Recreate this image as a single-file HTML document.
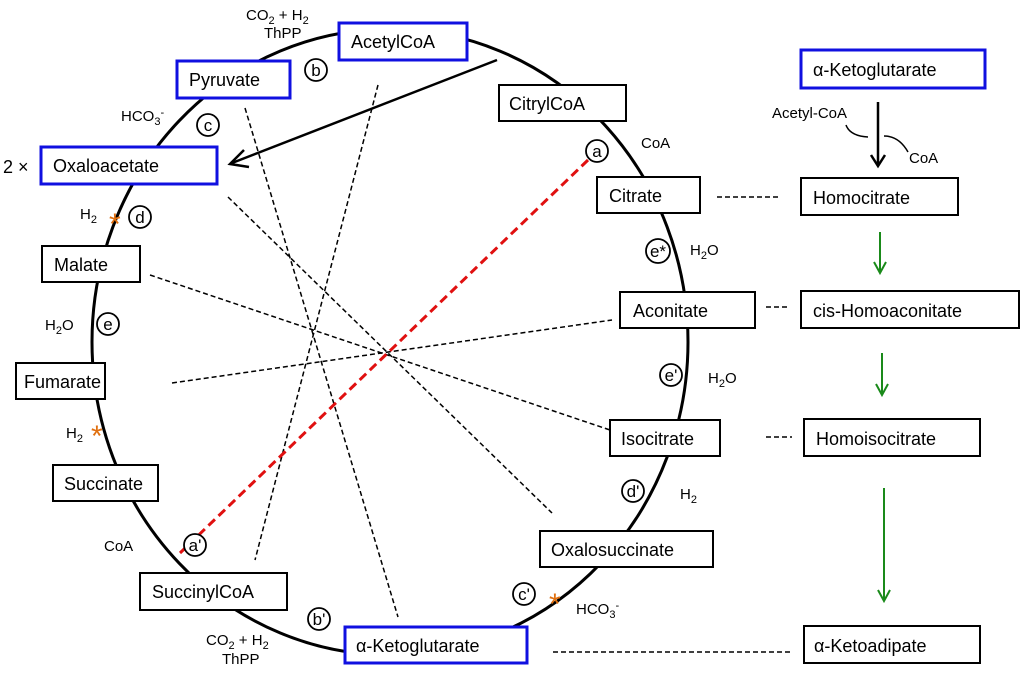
<!DOCTYPE html>
<html><head><meta charset="utf-8"><style>
html,body{margin:0;padding:0;background:#fff;}
svg{display:block;}
text{font-family:"Liberation Sans",sans-serif;fill:#000;}
.bx{fill:#fff;stroke:#000;stroke-width:2;}
.bb{fill:#fff;stroke:#1010e0;stroke-width:3;}
.lb{font-size:18px;}
.sm{font-size:15px;}
.dl{stroke:#000;stroke-width:1.5;stroke-dasharray:5,3;fill:none;}
.ci{fill:#fff;stroke:#000;stroke-width:1.8;}
.cl{font-size:17px;text-anchor:middle;}
.st{fill:#e07010;font-size:30px;}
</style></head><body>
<svg width="1024" height="677" viewBox="0 0 1024 677" xmlns="http://www.w3.org/2000/svg">
<ellipse cx="390" cy="342" rx="298" ry="313" fill="none" stroke="#000" stroke-width="3"/>

<line class="dl" x1="150" y1="275" x2="610" y2="430"/>
<line class="dl" x1="172" y1="383" x2="612" y2="320"/>
<line class="dl" x1="228" y1="197" x2="552" y2="513"/>
<line class="dl" x1="245" y1="108" x2="398" y2="617"/>
<line class="dl" x1="378" y1="85" x2="255" y2="560"/>
<line x1="588" y1="160" x2="180" y2="553" stroke="#e01010" stroke-width="3" stroke-dasharray="9,5"/>

<line x1="497" y1="60" x2="232" y2="163" stroke="#000" stroke-width="2.5"/>
<path d="M244,150 L230,164 L249,167" fill="none" stroke="#000" stroke-width="2.5"/>

<rect class="bb" x="339" y="23" width="128" height="37"/><text class="lb" x="351" y="48">AcetylCoA</text>
<rect class="bb" x="177" y="61" width="113" height="37"/><text class="lb" x="189" y="86">Pyruvate</text>
<rect class="bx" x="499" y="85" width="127" height="36"/><text class="lb" x="509" y="110">CitrylCoA</text>
<rect class="bb" x="41" y="147" width="176" height="37"/><text class="lb" x="53" y="172">Oxaloacetate</text>
<rect class="bx" x="42" y="246" width="98" height="36"/><text class="lb" x="54" y="271">Malate</text>
<rect class="bx" x="597" y="177" width="103" height="36"/><text class="lb" x="609" y="202">Citrate</text>
<rect class="bx" x="620" y="292" width="135" height="36"/><text class="lb" x="633" y="317">Aconitate</text>
<rect class="bx" x="16" y="363" width="89" height="36"/><text class="lb" x="24" y="388">Fumarate</text>
<rect class="bx" x="610" y="420" width="110" height="36"/><text class="lb" x="621" y="445">Isocitrate</text>
<rect class="bx" x="53" y="465" width="105" height="36"/><text class="lb" x="64" y="490">Succinate</text>
<rect class="bx" x="140" y="573" width="147" height="37"/><text class="lb" x="152" y="598">SuccinylCoA</text>
<rect class="bx" x="540" y="531" width="173" height="36"/><text class="lb" x="551" y="556">Oxalosuccinate</text>
<rect class="bb" x="345" y="627" width="182" height="36"/><text class="lb" x="356" y="652">α-Ketoglutarate</text>

<rect class="bb" x="801" y="50" width="184" height="38"/><text class="lb" x="813" y="76">α-Ketoglutarate</text>
<rect class="bx" x="801" y="178" width="157" height="37"/><text class="lb" x="813" y="204">Homocitrate</text>
<rect class="bx" x="801" y="291" width="218" height="37"/><text class="lb" x="813" y="317">cis-Homoaconitate</text>
<rect class="bx" x="804" y="419" width="176" height="37"/><text class="lb" x="816" y="445">Homoisocitrate</text>
<rect class="bx" x="804" y="626" width="176" height="37"/><text class="lb" x="814" y="652">α-Ketoadipate</text>

<line class="dl" x1="717" y1="197" x2="778" y2="197" stroke-dasharray="4,3"/>
<line class="dl" x1="766" y1="307" x2="790" y2="307" stroke-dasharray="4,3"/>
<line class="dl" x1="766" y1="437" x2="792" y2="437" stroke-dasharray="4,3"/>
<line class="dl" x1="553" y1="652" x2="792" y2="652" stroke-dasharray="4,3"/>

<line x1="878" y1="102" x2="878" y2="164" stroke="#000" stroke-width="2.5"/>
<path d="M871,155 L878,166 L885,155" fill="none" stroke="#000" stroke-width="2.5"/>
<path d="M846,125 Q850,136 868,137" fill="none" stroke="#000" stroke-width="1.5"/>
<path d="M884,136 Q899,136 908,152" fill="none" stroke="#000" stroke-width="1.5"/>
<text class="sm" x="772" y="118">Acetyl-CoA</text>
<text class="sm" x="909" y="163">CoA</text>
<g stroke="#1a8a1a" stroke-width="2" fill="none">
<line x1="880" y1="232" x2="880" y2="272"/><path d="M874,262 L880,273 L886,262"/>
<line x1="882" y1="353" x2="882" y2="394"/><path d="M876,384 L882,395 L888,384"/>
<line x1="884" y1="488" x2="884" y2="600"/><path d="M878,590 L884,601 L890,590"/>
</g>

<g>
<circle class="ci" cx="316" cy="70" r="11"/><text class="cl" x="316" y="76">b</text>
<circle class="ci" cx="208" cy="125" r="11"/><text class="cl" x="208" y="131">c</text>
<circle class="ci" cx="140" cy="217" r="11"/><text class="cl" x="140" y="223">d</text>
<circle class="ci" cx="108" cy="324" r="11"/><text class="cl" x="108" y="330">e</text>
<circle class="ci" cx="597" cy="151" r="11"/><text class="cl" x="597" y="157">a</text>
<circle class="ci" cx="658" cy="251" r="12"/><text class="cl" x="658" y="257">e*</text>
<circle class="ci" cx="671" cy="375" r="11"/><text class="cl" x="671" y="381">e'</text>
<circle class="ci" cx="633" cy="491" r="11"/><text class="cl" x="633" y="497">d'</text>
<circle class="ci" cx="524" cy="594" r="11"/><text class="cl" x="524" y="600">c'</text>
<circle class="ci" cx="319" cy="619" r="11"/><text class="cl" x="319" y="625">b'</text>
<circle class="ci" cx="195" cy="545" r="11"/><text class="cl" x="195" y="551">a'</text>
</g>

<text class="sm" x="246" y="20">CO<tspan font-size="11" dy="4">2</tspan><tspan dy="-4"> + H</tspan><tspan font-size="11" dy="4">2</tspan></text>
<text class="sm" x="264" y="38">ThPP</text>
<text class="sm" x="121" y="121">HCO<tspan font-size="11" dy="4">3</tspan><tspan font-size="11" dy="-9">-</tspan></text>
<text class="lb" x="3" y="173">2 ×</text>
<text class="sm" x="80" y="219">H<tspan font-size="11" dy="4">2</tspan></text>
<text class="st" x="109" y="234">*</text>
<text class="sm" x="45" y="330">H<tspan font-size="11" dy="4">2</tspan><tspan dy="-4">O</tspan></text>
<text class="sm" x="66" y="438">H<tspan font-size="11" dy="4">2</tspan></text>
<text class="st" x="91" y="446">*</text>
<text class="sm" x="104" y="551">CoA</text>
<text class="sm" x="206" y="645">CO<tspan font-size="11" dy="4">2</tspan><tspan dy="-4"> + H</tspan><tspan font-size="11" dy="4">2</tspan></text>
<text class="sm" x="222" y="664">ThPP</text>
<text class="sm" x="576" y="614">HCO<tspan font-size="11" dy="4">3</tspan><tspan font-size="11" dy="-9">-</tspan></text>
<text class="st" x="549" y="614">*</text>
<text class="sm" x="680" y="499">H<tspan font-size="11" dy="4">2</tspan></text>
<text class="sm" x="708" y="383">H<tspan font-size="11" dy="4">2</tspan><tspan dy="-4">O</tspan></text>
<text class="sm" x="690" y="255">H<tspan font-size="11" dy="4">2</tspan><tspan dy="-4">O</tspan></text>
<text class="sm" x="641" y="148">CoA</text>
</svg>
</body></html>
